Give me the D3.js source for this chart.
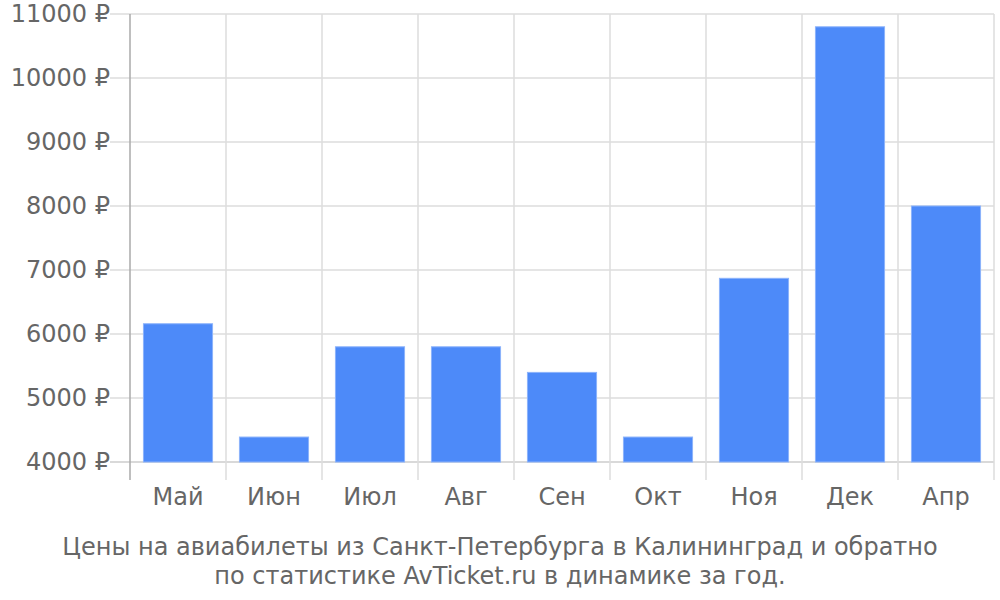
<!DOCTYPE html>
<html><head><meta charset="utf-8">
<script src="https://cdn.jsdelivr.net/npm/d3@7"></script>
<style>body{margin:0;background:#fff;font-family:"DejaVu Sans",sans-serif;}</style>
</head><body><svg id="c" width="1000" height="600"></svg>
<script>
const categories = ["Май","Июн","Июл","Авг","Сен","Окт","Ноя","Дек","Апр"];
const prices = [6160, 4390, 5800, 5800, 5400, 4390, 6870, 10800, 8000];
const yTicks = [4000,5000,6000,7000,8000,9000,10000,11000];
const titleLines = ["Цены на авиабилеты из Санкт-Петербурга в Калининград и обратно","по статистике AvTicket.ru в динамике за год."];

(function(){
const svg = d3.select("#c");
const pl = 130, pr = 994, pt = 14, pb = 462;
const x = d3.scaleBand().domain(categories).range([pl,pr]).paddingInner(0.28).paddingOuter(0.14);
const y = d3.scaleLinear().domain([4000,11000]).range([pb,pt]);

svg.append("g").selectAll("line").data(yTicks).join("line")
  .attr("x1",pl-20).attr("x2",pr).attr("y1",d=>y(d)).attr("y2",d=>y(d))
  .attr("stroke",d=>d===4000?"#cccccc":"#dddddd").attr("stroke-width",1.5);
const bounds = categories.map(c=>x(c)-x.step()*x.paddingInner()/2).concat([pr]);
svg.append("g").selectAll("line").data(bounds.slice(1)).join("line")
  .attr("x1",d=>d).attr("x2",d=>d).attr("y1",pt).attr("y2",pb+18)
  .attr("stroke","#dddddd").attr("stroke-width",1.5);
svg.append("line").attr("x1",pl).attr("x2",pl).attr("y1",pt).attr("y2",pb+18)
  .attr("stroke","#aaaaaa").attr("stroke-width",1.5);

svg.append("g").selectAll("rect").data(prices).join("rect")
  .attr("x",(d,i)=>x(categories[i])).attr("width",x.bandwidth())
  .attr("y",d=>y(d)).attr("height",d=>pb-y(d))
  .attr("fill","#4d8af9").attr("stroke","#8cb3fb").attr("stroke-width",1);

svg.append("g").selectAll("text").data(yTicks).join("text")
  .attr("x",110).attr("y",d=>y(d)).attr("dy","0.35em").attr("text-anchor","end")
  .attr("fill","#666").attr("font-size",24).text(d=>d+" ₽");
svg.append("g").selectAll("text").data(categories).join("text")
  .attr("x",d=>x(d)+x.bandwidth()/2).attr("y",505).attr("text-anchor","middle")
  .attr("fill","#666").attr("font-size",24).text(d=>d);
svg.append("g").selectAll("text").data(titleLines).join("text")
  .attr("x",500).attr("y",(d,i)=>555+i*29).attr("text-anchor","middle")
  .attr("fill","#666").attr("font-size",24).text(d=>d);
})();
</script></body></html>
